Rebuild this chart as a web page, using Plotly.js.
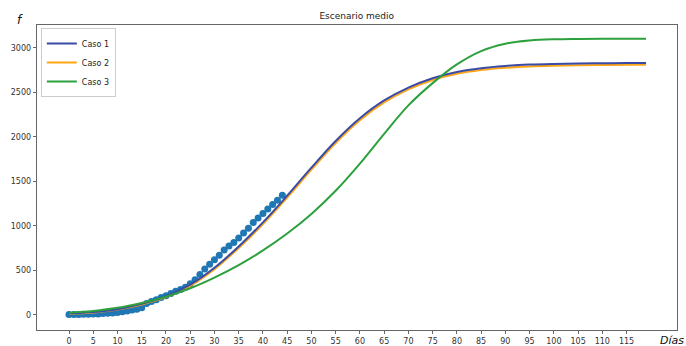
<!DOCTYPE html>
<html>
<head>
<meta charset="utf-8">
<script src="https://cdn.plot.ly/plotly-3.0.1.min.js"></script>
<style>html,body{margin:0;padding:0;background:#fff;}#chart{width:686px;height:346px;}</style>
</head>
<body>
<div id="chart"></div>
<script>
// Observed data (dots)
const obsDays = [0,1,2,3,4,5,6,7,8,9,10,11,12,13,14,15,16,17,18,19,20,21,22,23,24,25,26,27,28,29,30,31,32,33,34,35,36,37,38,39,40,41,42,43,44];
const obsValues = [5,5,6,7,8,10,12,15,18,22,28,35,45,55,65,80,130,150,170,195,215,240,265,285,310,350,395,455,515,570,620,670,730,775,815,865,920,975,1040,1090,1140,1190,1240,1290,1345];

// Model curves (read every 5 days)
const curveDays = [0,5,10,15,20,25,30,35,40,45,50,55,60,65,70,75,80,85,90,95,100,105,110,115,119];
const caso1 = [15,32,65,125,210,340,530,770,1040,1340,1655,1955,2210,2410,2555,2660,2730,2773,2798,2813,2821,2826,2828,2830,2830];
const caso2 = [12,28,60,118,200,328,515,752,1020,1318,1632,1932,2188,2388,2535,2640,2710,2752,2777,2792,2800,2805,2808,2810,2810];
const caso3 = [25,45,80,135,205,300,420,560,725,915,1135,1395,1700,2035,2355,2605,2815,2965,3048,3084,3098,3102,3104,3104,3104];

const xTicks = [0,5,10,15,20,25,30,35,40,45,50,55,60,65,70,75,80,85,90,95,100,105,110,115];
const yTicks = [0,500,1000,1500,2000,2500,3000];

const traces = [
  {x: obsDays, y: obsValues, mode: 'markers', type: 'scatter', showlegend: false,
   marker: {color: '#1f77b4', size: 7}},
  {x: curveDays, y: caso2, mode: 'lines', type: 'scatter', name: 'Caso 2', legendrank: 2,
   line: {color: '#ffa516', width: 2, shape: 'spline', smoothing: 1}},
  {x: curveDays, y: caso1, mode: 'lines', type: 'scatter', name: 'Caso 1', legendrank: 1,
   line: {color: '#3a4ba6', width: 2, shape: 'spline', smoothing: 1}},
  {x: curveDays, y: caso3, mode: 'lines', type: 'scatter', name: 'Caso 3', legendrank: 3,
   line: {color: '#2ca03c', width: 2, shape: 'spline', smoothing: 1}}
];

const layout = {
  width: 686, height: 346,
  margin: {l: 37, r: 9, t: 25, b: 16, pad: 0},
  paper_bgcolor: '#fff', plot_bgcolor: '#fff',
  font: {family: 'DejaVu Sans, sans-serif', size: 8, color: '#333'},
  title: {text: 'Escenario medio', font: {size: 9, color: '#222'}, x: 0.52, xanchor: 'center',
          yref: 'container', y: 0.955, yanchor: 'middle'},
  xaxis: {range: [-6.6, 125.4], tickvals: xTicks, ticktext: xTicks.map(String),
          showgrid: false, zeroline: false, showline: true, mirror: true, linecolor: '#666', linewidth: 1.3,
          ticks: 'outside', ticklen: 3, tickcolor: '#666', tickfont: {size: 8, color: '#333'}},
  yaxis: {range: [-169, 3258], tickvals: yTicks, ticktext: yTicks.map(String),
          showgrid: false, zeroline: false, showline: true, mirror: true, linecolor: '#666', linewidth: 1.3,
          ticks: 'outside', ticklen: 3, tickcolor: '#666', tickfont: {size: 8, color: '#333'}},
  showlegend: true,
  legend: {x: 0.006, y: 0.99, xanchor: 'left', yanchor: 'top', bgcolor: 'rgba(255,255,255,0.9)',
           bordercolor: '#ccc', borderwidth: 1, font: {size: 8, color: '#222'},
           tracegroupgap: 0, itemwidth: 30},
  annotations: [
    {text: '<i>f</i>', xref: 'paper', yref: 'paper', x: -0.027, y: 1.016, showarrow: false,
     xanchor: 'center', yanchor: 'middle', font: {size: 12, color: '#111'}},
    {text: '<i>Días</i>', xref: 'paper', yref: 'paper', x: 0.992, y: -0.033, showarrow: false,
     xanchor: 'center', yanchor: 'middle', font: {size: 11, color: '#111'}}
  ]
};

Plotly.newPlot('chart', traces, layout, {displayModeBar: false, staticPlot: true});
</script>
</body>
</html>
